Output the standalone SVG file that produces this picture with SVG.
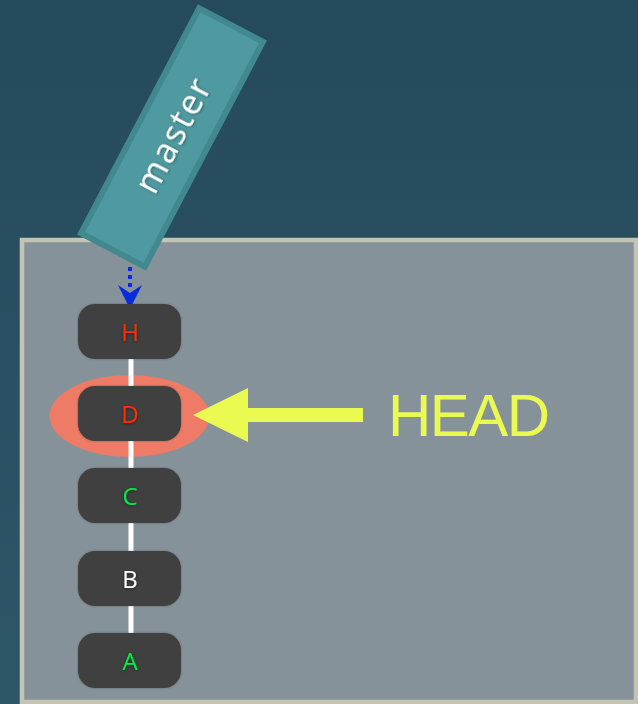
<svg xmlns="http://www.w3.org/2000/svg" width="638" height="704" viewBox="0 0 638 704">
<defs>
<linearGradient id="bg" x1="0" y1="0" x2="0" y2="1"><stop offset="0" stop-color="#254a5c"/><stop offset="1" stop-color="#2d5667"/></linearGradient>
<filter id="sh" x="-20%" y="-20%" width="140%" height="140%"><feDropShadow dx="0" dy="1" stdDeviation="1.5" flood-color="#000" flood-opacity="0.45"/></filter>
<filter id="nsh" x="-10%" y="-20%" width="120%" height="140%"><feDropShadow dx="0" dy="0" stdDeviation="1" flood-color="#000" flood-opacity="0.3"/></filter>
</defs>
<style>
.node rect{fill:#404040;filter:url(#nsh)}
.lbl{font-family:'Open Sans','Liberation Sans',sans-serif;text-anchor:middle;filter:url(#sh)}
.red{fill:#ff2d00}.green{fill:#00ee44}.white{fill:#ffffff}
</style>
<rect width="638" height="704" fill="url(#bg)"/>
<rect x="22" y="240" width="614" height="462" fill="#86929a" stroke="#c4c4b2" stroke-width="4.5"/>
<ellipse id="head-highlight" cx="129.5" cy="416" rx="80" ry="41" fill="#ee7b65"/>
<g id="connectors">
<line x1="131" y1="355" x2="131" y2="640" stroke="#ffffff" stroke-width="5"/>
<line x1="130" y1="267" x2="130" y2="287" stroke="#0a2bdc" stroke-width="4" stroke-dasharray="4,4"/>
<path d="M118,285 L130,293 L142,285 L130,309 Z" fill="#0a2bdc"/>
<path d="M193,415 L248,388 L248,408 L363,408 L363,422 L248,422 L248,442 Z" fill="#ebfa50"/>
</g>
<g id="node-H" class="node"><rect x="78" y="304" width="103" height="55" rx="17"/><text class="lbl red" x="130" y="341" font-size="24">H</text></g>
<g id="node-D" class="node"><rect x="78" y="386" width="103" height="55" rx="17"/><text class="lbl red" x="130" y="423" font-size="24">D</text></g>
<g id="node-C" class="node"><rect x="78" y="468" width="103" height="55" rx="17"/><text class="lbl green" x="130" y="505" font-size="24">C</text></g>
<g id="node-B" class="node"><rect x="78" y="551" width="103" height="55" rx="17"/><text class="lbl white" x="130" y="588" font-size="24">B</text></g>
<g id="node-A" class="node"><rect x="78" y="633" width="103" height="55" rx="17"/><text class="lbl green" x="130" y="670" font-size="24">A</text></g>
<g id="master" transform="translate(172,137.5) rotate(-62.3)">
<rect x="-127" y="-36" width="254" height="72" fill="#4f9aa0" stroke="#42888f" stroke-width="6"/>
<text x="2" y="12" font-family="'Open Sans','Liberation Sans',sans-serif" font-size="35" fill="#ffffff" text-anchor="middle" textLength="124" filter="url(#sh)">master</text>
</g>
<g id="head-label"><text x="388" y="436" font-family="'Liberation Sans',sans-serif" font-size="60" fill="#ebfa50" textLength="162">HEAD</text></g>
</svg>
